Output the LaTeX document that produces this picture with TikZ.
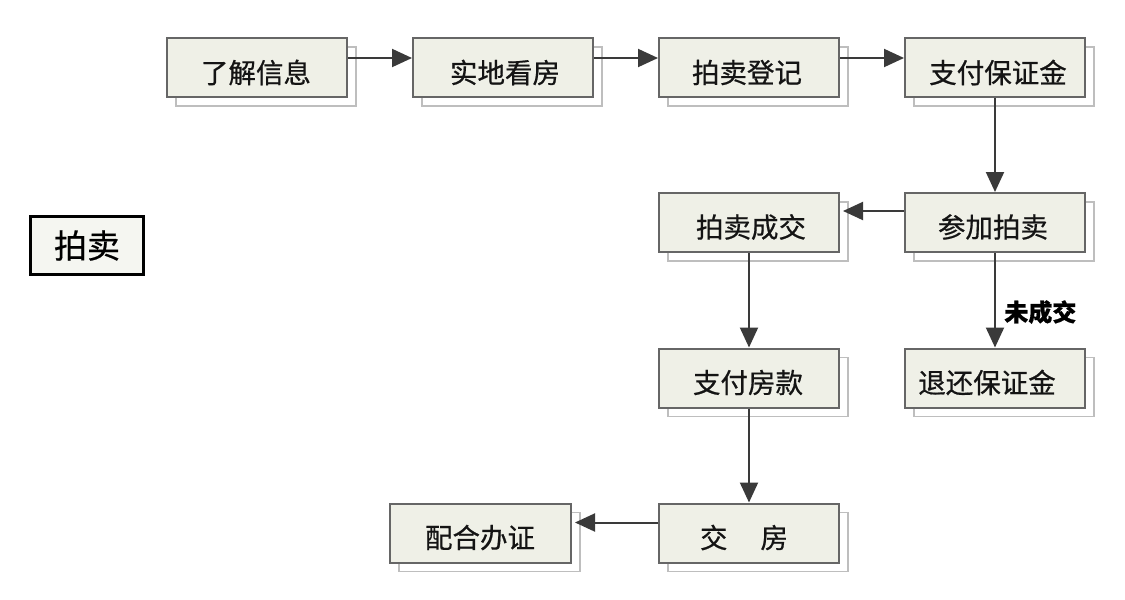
\documentclass[tikz,border=0pt]{standalone}
\usepackage{fontspec}
\newfontfamily\cjk{Noto Sans CJK SC}[FakeBold=0.6]
\usetikzlibrary{arrows.meta}
\definecolor{boxfill}{HTML}{EFF0E7}
\definecolor{boxline}{HTML}{666666}
\definecolor{shline}{HTML}{BEBEBE}
\definecolor{arrline}{HTML}{3A3A3A}
\tikzset{
  flowbox/.style={draw=boxline, line width=2pt, fill=boxfill, minimum width=180pt, minimum height=59pt, inner sep=0pt,
    append after command={
      \pgfextra{\draw[shline, line width=1.4pt] ([shift={(10pt,-10pt)}]\tikzlastnode.north west) rectangle ([shift={(8pt,-8pt)}]\tikzlastnode.south east);}
    }},
  boxtext/.style={font=\cjk\fontsize{27.5}{30}\selectfont, text=black!92},
  arr/.style={draw=arrline, line width=2pt, -{Triangle[length=20pt,width=18pt]}},
}
\begin{document}
\begin{tikzpicture}[x=1pt,y=-1pt]
\useasboundingbox[fill=white] (0,0) rectangle (1125,600);
% boxes
\node[flowbox] (b1) at (257,67.5) {};
\node[flowbox] (b2) at (503,67.5) {};
\node[flowbox] (b3) at (749,67.5) {};
\node[flowbox] (b4) at (995,67.5) {};
\node[flowbox] (cj) at (749,222.5) {};
\node[flowbox] (ca) at (995,222.5) {};
\node[flowbox] (zf) at (749,378) {};
\node[flowbox] (th) at (995,378) {};
\node[flowbox] (jf) at (749,533) {};
\node[flowbox, minimum width=181pt] (ph) at (480.5,533) {};
% texts
\node[boxtext] (t1) at (256,72.5) {了解信息};
\node[boxtext] (t2) at (505,72.5) {实地看房};
\node[boxtext] (t3) at (747,72.5) {拍卖登记};
\node[boxtext] (t4) at (998,72.5) {支付保证金};
\node[boxtext] (tcj) at (751,227) {拍卖成交};
\node[boxtext] (tca) at (993,227) {参加拍卖};
\node[boxtext] (tzf) at (748,382.5) {支付房款};
\node[boxtext] (tth) at (987,382.5) {退还保证金};
\node[boxtext] (tjf) at (744,537.5) {交\hspace{1.2em}房};
\node[boxtext] (tph) at (480,537.5) {配合办证};
% side box
\node[draw=black, line width=3pt, fill=boxfill!60!white, minimum width=113pt, minimum height=58pt, inner sep=0pt, font=\cjk\fontsize{33}{35}\selectfont] (pm) at (87,245.5) {拍卖};
% arrows
\draw[arr] ([yshift=-21pt]b1.north east) -- ([yshift=-21pt]b2.north west);
\draw[arr] ([yshift=-21pt]b2.north east) -- ([yshift=-21pt]b3.north west);
\draw[arr] ([yshift=-21pt]b3.north east) -- ([yshift=-21pt]b4.north west);
\draw[arr] (b4.south) -- (ca.north);
\draw[arr] ([yshift=-19pt]ca.north west) -- ([yshift=-19pt,xshift=3pt]cj.north east);
\draw[arr] (ca.south) -- node[pos=0.625, right=5pt, font=\cjk\bfseries\fontsize{24}{26}\selectfont] (lbl) {未成交} (th.north);
\draw[arr] (cj.south) -- (zf.north);
\draw[arr] (zf.south) -- (jf.north);
\draw[arr] ([yshift=-20pt]jf.north west) -- ([yshift=-20pt,xshift=3pt]ph.north east);
\end{tikzpicture}
\end{document}
